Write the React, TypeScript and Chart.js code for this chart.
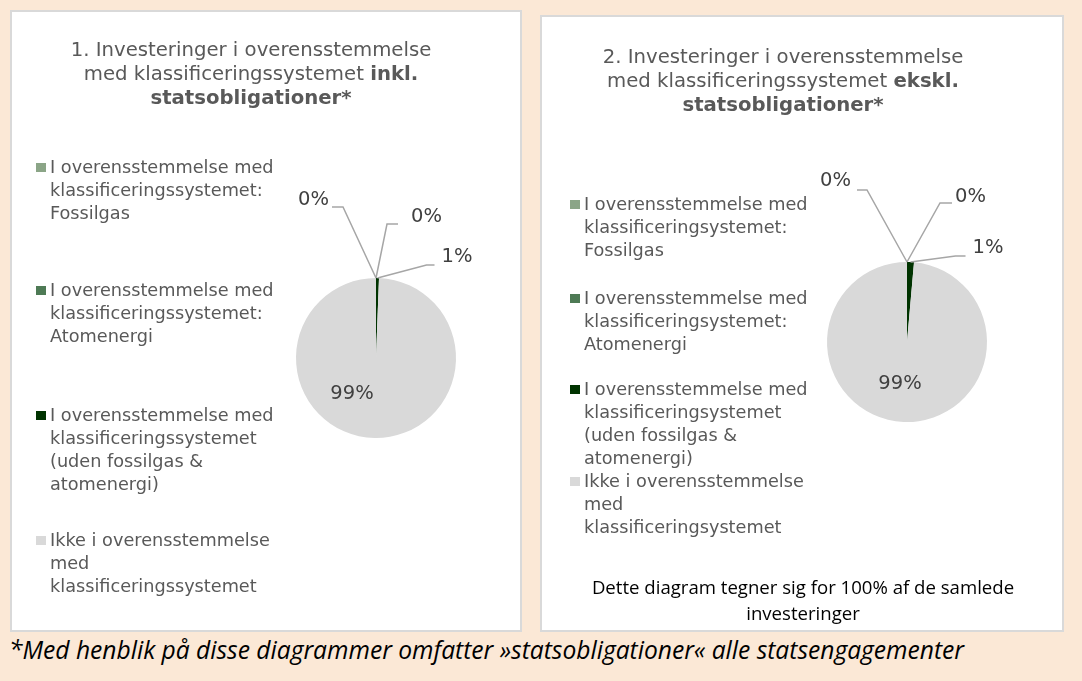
import React, { useEffect, useRef } from 'react';
import { Chart, registerables } from 'chart.js';

Chart.register(...registerables);

// ---------- DATA ----------
const categoriesIncl: string[][] = [
  ['I overensstemmelse med', 'klassificeringssystemet:', 'Fossilgas'],
  ['I overensstemmelse med', 'klassificeringssystemet:', 'Atomenergi'],
  ['I overensstemmelse med', 'klassificeringssystemet', '(uden fossilgas &', 'atomenergi)'],
  ['Ikke i overensstemmelse', 'med', 'klassificeringssystemet'],
];
const categoriesExcl: string[][] = [
  ['I overensstemmelse med', 'klassificeringsystemet:', 'Fossilgas'],
  ['I overensstemmelse med', 'klassificeringsystemet:', 'Atomenergi'],
  ['I overensstemmelse med', 'klassificeringsystemet', '(uden fossilgas &', 'atomenergi)'],
  ['Ikke i overensstemmelse', 'med', 'klassificeringsystemet'],
];
const valuesIncl = [0, 0, 0.6, 99.4];
const valuesExcl = [0, 0, 1.4, 98.6];

const titleIncl = ['1. Investeringer i overensstemmelse', 'med klassificeringssystemet', 'inkl.', 'statsobligationer*'];
const titleExcl = ['2. Investeringer i overensstemmelse', 'med klassificeringssystemet', 'ekskl.', 'statsobligationer*'];
const noteExcl = ['Dette diagram tegner sig for 100% af de samlede', 'investeringer'];
const footnote = '*Med henblik på disse diagrammer omfatter »statsobligationer« alle statsengagementer';

// ---------- STYLE ----------
const sliceColors = ['#8BA587', '#4E7A55', '#003300', '#D9D9D9'];
const GOTHIC = '"DejaVu Sans", sans-serif';
const CAL = '"Open Sans", Lato, sans-serif';
const LABEL_FONT = 19.5;

type LabelLayout =
  | { type: 'out'; elbow: [number, number]; arm: number; gap: number; dy: number }
  | { type: 'in'; at: [number, number] };

const layoutIncl: LabelLayout[] = [
  { type: 'out', elbow: [-33, -71], arm: -11, gap: 3, dy: -7 },
  { type: 'out', elbow: [11, -54], arm: 11, gap: 13, dy: -7 },
  { type: 'out', elbow: [49, -13], arm: 8, gap: 7, dy: -8 },
  { type: 'in', at: [-24, 36] },
];
const layoutExcl: LabelLayout[] = [
  { type: 'out', elbow: [-40, -72], arm: -10, gap: 6, dy: -9 },
  { type: 'out', elbow: [33, -59], arm: 12, gap: 3, dy: -6 },
  { type: 'out', elbow: [45, -6], arm: 10, gap: 7, dy: -8 },
  { type: 'in', at: [-7, 42] },
];

const makeLabelPlugin = (layout: LabelLayout[]) => ({
  id: 'leaderLabels',
  afterDatasetsDraw(chart: any) {
    const ctx = chart.ctx as CanvasRenderingContext2D;
    const meta = chart.getDatasetMeta(0);
    const data = chart.data.datasets[0].data as number[];
    const total = data.reduce((a, b) => a + b, 0);
    ctx.save();
    ctx.font = `${LABEL_FONT}px ${GOTHIC}`;
    ctx.fillStyle = '#404040';
    ctx.strokeStyle = '#A6A6A6';
    ctx.lineWidth = 1.5;
    ctx.textBaseline = 'middle';
    meta.data.forEach((el: any, i: number) => {
      const { x, y, startAngle, endAngle, outerRadius } = el.getProps(
        ['x', 'y', 'startAngle', 'endAngle', 'outerRadius'],
        true
      );
      const text = Math.round((data[i] / total) * 100) + '%';
      const L = layout[i];
      if (L.type === 'in') {
        ctx.textAlign = 'center';
        ctx.fillText(text, x + L.at[0], y + L.at[1]);
        return;
      }
      const mid = (startAngle + endAngle) / 2;
      const ax = x + Math.cos(mid) * outerRadius;
      const ay = y + Math.sin(mid) * outerRadius;
      const ex = ax + L.elbow[0];
      const ey = ay + L.elbow[1];
      const hx = ex + L.arm;
      ctx.beginPath();
      ctx.moveTo(ax, ay);
      ctx.lineTo(ex, ey);
      ctx.lineTo(hx, ey);
      ctx.stroke();
      ctx.textAlign = L.arm < 0 ? 'right' : 'left';
      ctx.fillText(text, hx + Math.sign(L.arm) * L.gap, ey + L.dy);
    });
    ctx.restore();
  },
});

type PanelProps = {
  box: { left: number; top: number; width: number; height: number };
  title: string[];
  titleTop: number;
  titleCenter: number;
  categories: string[][];
  values: number[];
  layout: LabelLayout[];
  padding: { left: number; top: number; right: number; bottom: number };
  legendLeft: number;
  legendTops: number[];
  note?: string[];
  noteTop?: number;
  noteCenter?: number;
};

function Panel(p: PanelProps) {
  const ref = useRef<HTMLCanvasElement>(null);
  useEffect(() => {
    const chart = new Chart(ref.current!, {
      type: 'pie',
      data: {
        labels: p.categories.map((c) => c.join(' ')),
        datasets: [
          {
            data: p.values,
            backgroundColor: sliceColors,
            borderWidth: 0,
            hoverBorderWidth: 0,
            hoverOffset: 0,
          } as any,
        ],
      },
      options: {
        animation: false,
        responsive: false,
        events: [],
        layout: { padding: p.padding },
        plugins: {
          legend: { display: false },
          tooltip: { enabled: false },
          title: { display: false },
        },
      },
      plugins: [makeLabelPlugin(p.layout)],
    });
    return () => chart.destroy();
  }, []);

  const { box } = p;
  return (
    <>
      <div
        style={{
          position: 'absolute',
          left: box.left,
          top: box.top,
          width: box.width,
          height: box.height,
          boxSizing: 'border-box',
          border: '2px solid #D9D9D9',
          background: '#FFFFFF',
        }}
      />
      <canvas
        ref={ref}
        width={box.width}
        height={box.height}
        style={{ position: 'absolute', left: box.left, top: box.top, width: box.width, height: box.height }}
      />
      <div
        style={{
          position: 'absolute',
          left: box.left + p.titleCenter - 220,
          width: 440,
          top: box.top + p.titleTop,
          textAlign: 'center',
          fontFamily: GOTHIC,
          fontSize: 19.7,
          lineHeight: '24px',
          color: '#595959',
        }}
      >
        <div>{p.title[0]}</div>
        <div>
          {p.title[1]} <b>{p.title[2]}</b>
        </div>
        <div>
          <b>{p.title[3]}</b>
        </div>
      </div>
      {p.categories.map((lines, i) => (
        <div
          key={i}
          style={{
            position: 'absolute',
            left: box.left + p.legendLeft,
            top: box.top + p.legendTops[i],
            fontFamily: GOTHIC,
            fontSize: 17.7,
            lineHeight: '23px',
            color: '#595959',
            whiteSpace: 'nowrap',
          }}
        >
          <span
            style={{
              position: 'absolute',
              left: -14,
              top: 7,
              width: 9.5,
              height: 9.5,
              background: sliceColors[i],
            }}
          />
          {lines.map((l, j) => (
            <div key={j}>{l}</div>
          ))}
        </div>
      ))}
      {p.note && (
        <div
          style={{
            position: 'absolute',
            left: box.left + (p.noteCenter || 0) - 250,
            width: 500,
            top: box.top + (p.noteTop || 0),
            textAlign: 'center',
            fontFamily: CAL,
            fontSize: 18.6,
            lineHeight: '26px',
            color: '#000000',
          }}
        >
          {p.note.map((l, j) => (
            <div key={j}>{l}</div>
          ))}
        </div>
      )}
    </>
  );
}

export default function App() {
  return (
    <div
      style={{
        position: 'fixed',
        left: 0,
        top: 0,
        width: 1082,
        height: 681,
        background: '#FBE8D6',
        overflow: 'hidden',
      }}
    >
      <Panel
        box={{ left: 10, top: 10, width: 512, height: 622 }}
        title={titleIncl}
        titleTop={28}
        titleCenter={241}
        categories={categoriesIncl}
        values={valuesIncl}
        layout={layoutIncl}
        padding={{ left: 286, top: 268, right: 66, bottom: 194 }}
        legendLeft={40}
        legendTops={[145.5, 268.5, 393.5, 518.5]}
      />
      <Panel
        box={{ left: 540, top: 15, width: 524, height: 617 }}
        title={titleExcl}
        titleTop={30}
        titleCenter={243}
        categories={categoriesExcl}
        values={valuesExcl}
        layout={layoutExcl}
        padding={{ left: 287, top: 247, right: 77, bottom: 210 }}
        legendLeft={44}
        legendTops={[177.5, 271.5, 362.5, 454.5]}
        note={noteExcl}
        noteTop={559}
        noteCenter={263}
      />
      <div
        style={{
          position: 'absolute',
          left: 9,
          top: 635,
          fontFamily: CAL,
          fontStyle: 'italic',
          fontSize: 24.6,
          lineHeight: '30px',
          color: '#000000',
          whiteSpace: 'nowrap',
        }}
      >
        {footnote}
      </div>
    </div>
  );
}
